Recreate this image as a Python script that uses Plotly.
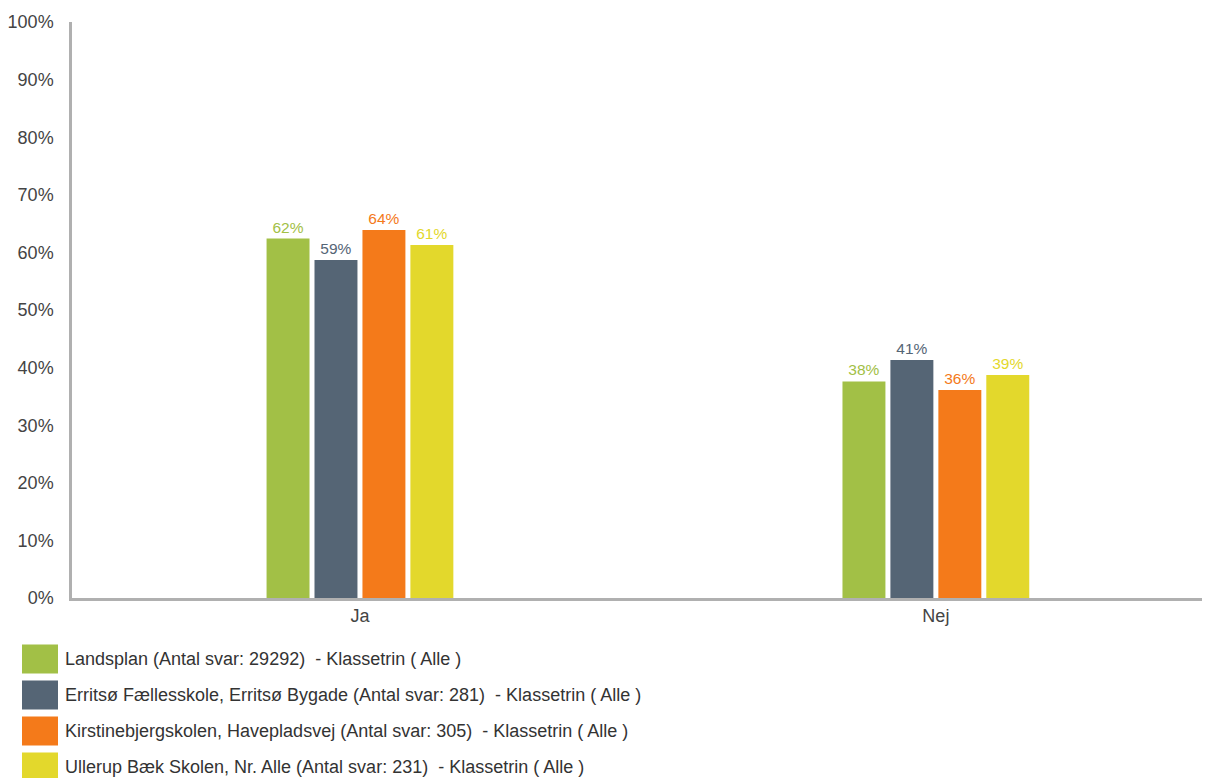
import plotly.graph_objects as go

categories = ["Ja", "Nej"]
series_names = [
    "Landsplan (Antal svar: 29292)  - Klassetrin ( Alle )",
    "Erritsø Fællesskole, Erritsø Bygade (Antal svar: 281)  - Klassetrin ( Alle )",
    "Kirstinebjergskolen, Havepladsvej (Antal svar: 305)  - Klassetrin ( Alle )",
    "Ullerup Bæk Skolen, Nr. Alle (Antal svar: 231)  - Klassetrin ( Alle )",
]
landsplan = [62.4, 37.6]
erritso = [58.7, 41.3]
kirstine = [63.9, 36.1]
ullerup = [61.3, 38.7]
series_values = [landsplan, erritso, kirstine, ullerup]
colors = ["#a2c046", "#556575", "#f47a1a", "#e3d82c"]
y_ticks = list(range(0, 101, 10))
y_tick_labels = [f"{v}%" for v in y_ticks]

FONT = "Liberation Sans, Arial, sans-serif"

# page has an 8px body margin, so the figure is laid out 8px in from the window edge
W, H = 1202, 770
L, T, B = 64, 14, 180
PW, PH = W - L, H - T - B  # 1138 x 576

fig = go.Figure()
for name, vals, col in zip(series_names, series_values, colors):
    fig.add_trace(go.Bar(
        x=categories, y=vals, name=name, marker=dict(color=col, line=dict(width=0)),
        text=[f"{round(v)}%" for v in vals], textposition="outside",
        textfont=dict(color=col, size=15.5, family=FONT), cliponaxis=False,
        showlegend=False,
    ))

# custom legend (window pixel positions -> paper coords)
row_y = [659, 695, 731, 767]
for name, col, ry in zip(series_names, colors, row_y):
    y_c = ry - 8
    fig.add_shape(type="rect", xref="paper", yref="paper",
                  x0=(14 - L) / PW, x1=(50 - L) / PW,
                  y0=-(y_c + 14.5 - (T + PH)) / PH, y1=-(y_c - 14.5 - (T + PH)) / PH,
                  fillcolor=col, line=dict(width=0))
    fig.add_annotation(xref="paper", yref="paper", x=(55 - L) / PW, y=-(y_c - (T + PH)) / PH,
                       text=name, showarrow=False, xanchor="left", yanchor="middle",
                       font=dict(size=18, color="#333333", family=FONT))

fig.update_layout(
    width=W, height=H,
    margin=dict(l=L, r=0, t=T, b=B),
    paper_bgcolor="white", plot_bgcolor="white",
    barmode="group", bargap=0.667, bargroupgap=0.104,
    font=dict(family=FONT, size=18, color="#444444"),
    xaxis=dict(range=[-0.5, 1.476], showgrid=False, showline=True, linecolor="#b0b0b0",
               linewidth=2.5, ticks="", tickfont=dict(size=18, color="#444444")),
    yaxis=dict(range=[0, 100], tickvals=y_ticks, ticktext=y_tick_labels, showgrid=False,
               showline=True, linecolor="#b0b0b0", linewidth=2.5, ticks="",
               ticklabelstandoff=12, zeroline=False,
               tickfont=dict(size=18, color="#444444")),
)

fig.write_html("out.html")
